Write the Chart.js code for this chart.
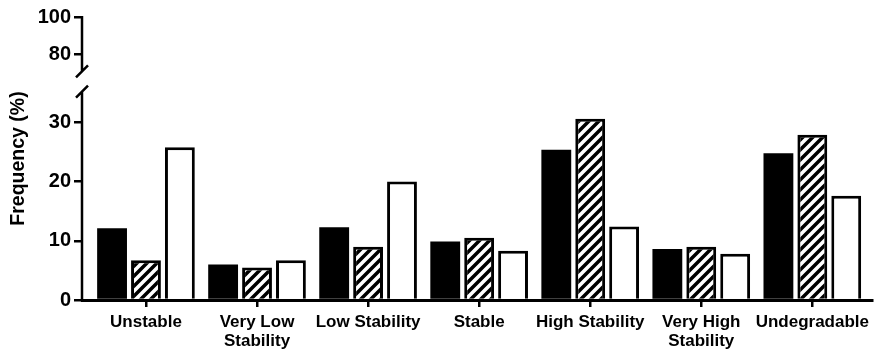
<!DOCTYPE html>
<html>
<head>
<meta charset="utf-8">
<script src="https://cdn.jsdelivr.net/npm/chart.js@4.4.1/dist/chart.umd.min.js"></script>
<style>
  body { margin: 0; background: #fff; }
</style>
</head>
<body>
<canvas id="myChart" width="875" height="352"></canvas>
<script>
const categories = [['Unstable'], ['Very Low', 'Stability'], ['Low Stability'], ['Stable'], ['High Stability'], ['Very High', 'Stability'], ['Undegradable']];
const solidValues = [12.1, 6.0, 12.3, 9.9, 25.4, 8.6, 24.8];
const hatchedValues = [6.7, 5.5, 9.0, 10.5, 30.6, 9.0, 27.9];
const openValues = [25.8, 6.7, 20.0, 8.3, 12.4, 7.8, 17.6];
const yTickLabels = [0, 10, 20, 30, 80, 100];

// broken y axis: 0..lowTop drawn at full scale, topBottom..100 squeezed above it
const lowTop = 36.9;
const topBottom = 65.6;
const topRatio = 0.317;
const lowLineEnd = 35.2;
const topLineEnd = 71;

function toAxis(v) {
  if (v <= lowTop) return v;
  return lowTop + (v - topBottom) * topRatio;
}

Chart.defaults.font.family = "'Liberation Sans', Arial, sans-serif";
Chart.defaults.color = '#000';

const canvas = document.getElementById('myChart');
const ctx = canvas.getContext('2d');

function makeHatch() {
  const c = document.createElement('canvas');
  c.width = 10;
  c.height = 10;
  const g = c.getContext('2d');
  g.fillStyle = '#fff';
  g.fillRect(0, 0, 10, 10);
  g.strokeStyle = '#000';
  g.lineWidth = 3.5;
  g.beginPath();
  g.moveTo(-2, 12); g.lineTo(12, -2);
  g.moveTo(-7, 7); g.lineTo(7, -7);
  g.moveTo(3, 17); g.lineTo(17, 3);
  g.stroke();
  return ctx.createPattern(c, 'repeat');
}

const brokenAxis = {
  id: 'brokenAxis',
  afterDraw(chart) {
    const c = chart.ctx;
    const y = chart.scales.y;
    const x0 = chart.chartArea.left;
    const lowEnd = y.getPixelForValue(lowLineEnd);
    const topEnd = y.getPixelForValue(toAxis(topLineEnd));
    c.save();
    c.strokeStyle = '#000';
    c.lineWidth = 2.5;
    c.beginPath();
    c.moveTo(x0, y.getPixelForValue(0) + 1.5);
    c.lineTo(x0, lowEnd);
    c.moveTo(x0, y.getPixelForValue(toAxis(100)) - 1);
    c.lineTo(x0, topEnd);
    [lowEnd, topEnd].forEach(p => {
      c.moveTo(x0 - 6, p + 6);
      c.lineTo(x0 + 6, p - 6);
    });
    c.stroke();
    c.restore();
  }
};

const toPoints = arr => arr.map((v, i) => ({x: i, y: v}));

new Chart(ctx, {
  type: 'bar',
  data: {
    datasets: [
      { label: 'Solid', data: toPoints(solidValues), backgroundColor: '#000', borderWidth: 0 },
      { label: 'Hatched', data: toPoints(hatchedValues), backgroundColor: makeHatch(), borderColor: '#000', borderWidth: 3 },
      { label: 'Open', data: toPoints(openValues), backgroundColor: '#fff', borderColor: '#000', borderWidth: 3 }
    ]
  },
  options: {
    responsive: false,
    animation: false,
    layout: { padding: { top: 17, right: 0, left: 0, bottom: 0 } },
    plugins: { legend: { display: false }, tooltip: { enabled: false } },
    datasets: { bar: { categoryPercentage: 0.916, barPercentage: 0.88 } },
    scales: {
      x: {
        type: 'linear',
        min: -0.576,
        max: 6.539,
        offset: false,
        afterBuildTicks: s => { s.ticks = categories.map((c, i) => ({value: i})); },
        afterFit: s => { s.height = 52; },
        ticks: {
          callback: (v, i) => categories[i],
          font: { size: 17, weight: 'bold', lineHeight: 1.1 },
          color: '#000',
          padding: 6,
          maxRotation: 0,
          autoSkip: false
        },
        grid: { offset: false, drawOnChartArea: false, drawTicks: true, tickLength: 7, color: '#000', lineWidth: 2.5 },
        border: { display: true, color: '#000', width: 3 }
      },
      y: {
        min: 0,
        max: toAxis(100),
        afterBuildTicks: s => { s.ticks = yTickLabels.map(v => ({value: toAxis(v)})); },
        afterFit: s => { s.width = 82; },
        ticks: {
          callback: (v, i) => yTickLabels[i],
          font: { size: 20, weight: 'bold' },
          color: '#000',
          padding: 3
        },
        grid: { drawOnChartArea: false, drawTicks: true, tickLength: 8, color: '#000', lineWidth: 2.5 },
        border: { display: false },
        title: {
          display: true,
          text: 'Frequency (%)',
          font: { size: 19.5, weight: 'bold' },
          color: '#000',
          padding: { top: 7, bottom: 0 }
        }
      }
    }
  },
  plugins: [brokenAxis]
});
</script>
</body>
</html>
